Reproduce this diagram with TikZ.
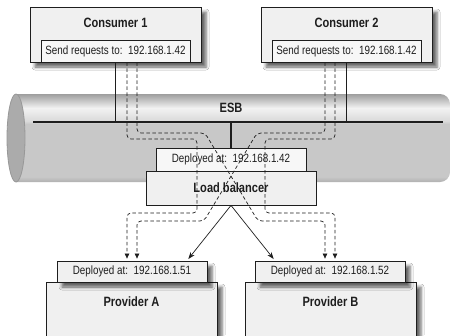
\documentclass[tikz,border=0pt]{standalone}
\usepackage{fontspec}
\setmainfont{Liberation Sans}[FakeStretch=0.82]
\usetikzlibrary{shadows.blur,arrows.meta}
\definecolor{pipeA}{HTML}{B0B0B0}
\definecolor{pipeB}{HTML}{C8C8C8}
\definecolor{pipeC}{HTML}{DADADA}
\definecolor{pipeD}{HTML}{F2F2F2}
\definecolor{pipeE}{HTML}{9E9E9E}
\definecolor{capfill}{HTML}{ABABAB}
\definecolor{capedge}{HTML}{989898}
\definecolor{boxfill}{HTML}{F0F0F0}
\definecolor{boxlight}{HTML}{F7F7F7}
\definecolor{ink}{HTML}{1E1E1E}
\pgfdeclareverticalshading{esbpipe}{100bp}{color(0bp)=(pipeA); color(25bp)=(pipeA); color(28bp)=(pipeB); color(58bp)=(pipeB); color(59.7bp)=(pipeC); color(67bp)=(pipeD); color(75bp)=(pipeE); color(100bp)=(pipeE)}
\tikzset{
  box/.style={draw=ink, line width=0.8pt, fill=boxfill, inner sep=0pt},
  shadowed/.style={blur shadow={shadow xshift=5pt, shadow yshift=-5pt, shadow blur radius=3pt, shadow opacity=60}},
  lbl/.style={font=\fontsize{12}{14}\selectfont, text=ink},
  ttl/.style={font=\fontsize{13.5}{15}\selectfont\bfseries, text=ink},
  dpath/.style={draw=ink, dash pattern=on 3.5pt off 2.5pt, line width=0.7pt, rounded corners=4pt, shorten >=2pt, -{Triangle[width=4.5pt,length=5pt]}},
  spath/.style={draw=ink, line width=0.7pt, shorten >=2pt, -{Stealth[length=7pt,width=5pt]}},
  busline/.style={draw=ink, line width=1.2pt},
}
\begin{document}
\begin{tikzpicture}[x=1pt,y=-1pt]
\fill[white] (0,0) rectangle (450,335);
\useasboundingbox (0,0) rectangle (450,335);
% ESB pipe
\begin{scope}
  \clip (16,0) rectangle (450,335);
  \shade[shading=esbpipe, rounded corners=10pt] (0,94) rectangle (450,182);
\end{scope}
\filldraw[fill=capfill, draw=capedge, line width=0.8pt] (16,138) ellipse [x radius=9pt, y radius=44pt];
\node[ttl] (esb) at (231,108) {ESB};
% bus
\coordinate (busL) at (33,122);
\coordinate (busR) at (443,122);
\draw[busline] (busL) -- (busR);
% consumers
\node[box, shadowed, minimum width=171pt, minimum height=55pt] (c1) at (115.5,34.5) {};
\node[ttl] (c1t) at (115.5,23) {Consumer 1};
\node[box, fill=boxlight, lbl, minimum width=149pt, minimum height=22pt] (c1in) at (115.5,51) {Send requests to:\, 192.168.1.42};
\node[box, shadowed, minimum width=171pt, minimum height=55pt] (c2) at (346.5,34.5) {};
\node[ttl] (c2t) at (346.5,23) {Consumer 2};
\node[box, fill=boxlight, lbl, minimum width=149pt, minimum height=22pt] (c2in) at (346.5,51) {Send requests to:\, 192.168.1.42};
\draw[busline] (c1.south) -- (c1.south |- busL);
\draw[busline] (c2.south) -- (c2.south |- busR);
% load balancer
\node[box, fill=boxlight, lbl, minimum width=150pt, minimum height=23pt] (esbd) at (231,159.5) {Deployed at:\, 192.168.1.42};
\node[box, ttl, fill=boxfill, minimum width=170pt, minimum height=34pt] (lb) at (231,188) {Load balancer};
\draw[busline] (esbd.north |- busL) -- (esbd.north);
% providers
\node[box, shadowed, minimum width=171pt, minimum height=63pt] (pA) at (131.5,313.5) {};
\node[ttl] (pAt) at (131.5,302) {Provider A};
\node[box, shadowed, lbl, minimum width=150pt, minimum height=21pt] (pAd) at (132,271.5) {Deployed at:\, 192.168.1.51};
\node[box, shadowed, minimum width=171pt, minimum height=63pt] (pB) at (330.5,313.5) {};
\node[ttl] (pBt) at (330.5,302) {Provider B};
\node[box, shadowed, lbl, minimum width=150pt, minimum height=21pt] (pBd) at (330,271.5) {Deployed at:\, 192.168.1.52};
% dashed request paths
\draw[dpath] ([xshift=11.5pt]c1in.south) -- (127,139) -- (197,139) -- (197,213) -- (127,213) -- ([xshift=-5pt]pAd.north);
\draw[dpath] ([xshift=21.5pt]c1in.south) -- (137,133) -- (205,133) -- (258,221) -- (325,221) -- ([xshift=-5pt]pBd.north);
\draw[dpath] ([xshift=-11.5pt]c2in.south) -- (335,139) -- (265,139) -- (265,213) -- (335,213) -- ([xshift=5pt]pBd.north);
\draw[dpath] ([xshift=-21.5pt]c2in.south) -- (325,133) -- (257,133) -- (204,221) -- (137,221) -- ([xshift=5pt]pAd.north);
% load balancer arrows
\draw[spath] (lb.south) -- ([xshift=55pt]pAd.north);
\draw[spath] (lb.south) -- ([xshift=-55pt]pBd.north);
\end{tikzpicture}
\end{document}
